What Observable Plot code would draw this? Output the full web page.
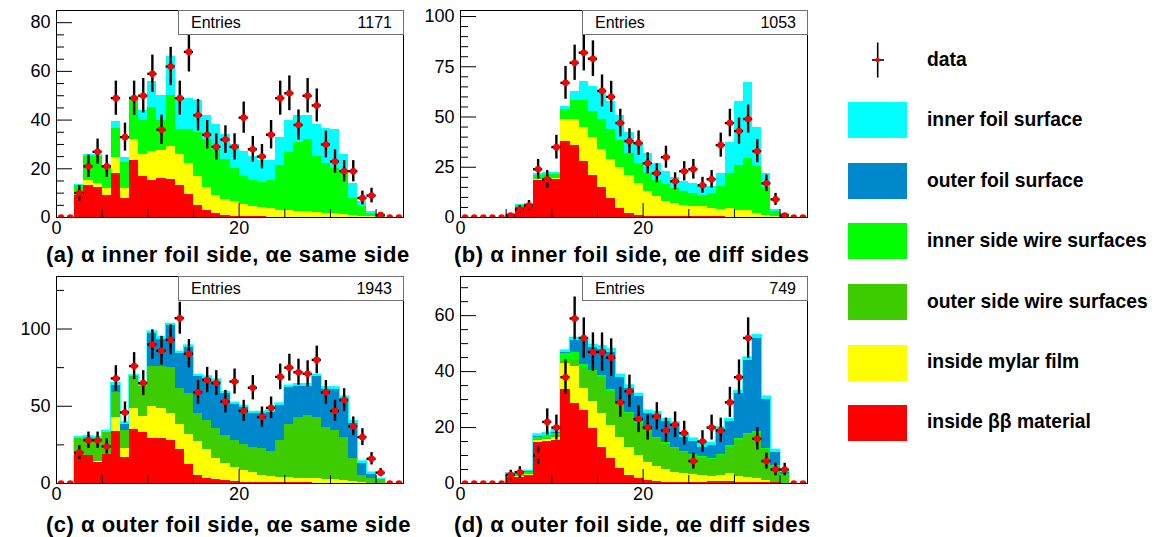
<!DOCTYPE html>
<html><head><meta charset="utf-8">
<script src="https://cdn.jsdelivr.net/npm/d3@7"></script>
<script src="https://cdn.jsdelivr.net/npm/@observablehq/plot@0.6"></script>
<style>
body{margin:0;background:#fff;font-family:"Liberation Sans",Arial,Helvetica,sans-serif;}
#wrap{position:relative;width:1172px;height:537px;overflow:hidden;background:#fff;}
.panel{position:absolute;}
.stats{position:absolute;border:1px solid #707070;background:#fff;font-size:16px;box-sizing:border-box;color:#000;}
.stats span{position:absolute;top:50%;transform:translateY(-50%);}
.cap{position:absolute;font-weight:bold;font-size:22px;letter-spacing:0.5px;white-space:nowrap;color:#000;}
.leg{position:absolute;font-weight:bold;font-size:19.3px;white-space:nowrap;color:#000;}
.sw{position:absolute;width:59px;height:36px;}
</style></head><body><div id="wrap"></div>
<script>
// ---- data (bins of width 1, lower edges 0..37) ----
const binLow = d3.range(38);
const colInnerFoil = "#00ffff", colOuterFoil = "#0088cc", colInnerWire = "#00ff00",
      colOuterWire = "#3ccc00", colMylar = "#ffff00", colBB = "#ff0000";

// panel (a)
const aData = [0,0,10,21,27,21,49,33,49,50,59,36,62,49,68,42,34,29,32,29,41,28,25,34,49,51,38,50,46,30,23,19,19,8,9,1,0,0];
const aUpToBB = [0,0,9,13,12.5,9,18,8,23.5,17,15,16,15.5,13,9.5,5,3,1.5,1,0.6,0.4,0.3,0.3,0.2,0.2,0.2,0.1,0.1,0.1,0.1,0,0,0,0,0,0,0,0];
const aUpToMylar = [0,0,9.5,15,14,12,24.5,12,32,26,27,27.5,29,26,22,17,12.5,9,7.5,6.5,5.5,4.5,4,3.5,3,2.8,2.6,2.4,2.2,1.8,1.5,1.2,0.8,0.5,0.3,0.1,0,0];
const aUpToInnerWire = [0,0,13,25,25,21,36.5,22.5,48,40,45,40,50,36,36,35,32,28,24,20,17,15,14.5,15,21.5,26.5,31,32,25,22,20,18,8,4.5,1.6,1.2,0,0];
const aTotal = [0,0,13.5,26,26,21.5,39.5,24.5,49.5,44,56,50,66,49,49,48,42,38,34,30,27,25,23.5,23.5,33,40,42,42,38,36.5,36,26,14,6.5,2.3,1.4,0,0];

// panel (b)
const bData = [0,0,0,0,0,1,4,6,24,19,35,67,77,82,79,63,60,47,38,37,27,22,30,18,23,24,16,19,36,47,43,49,33,17,9,1,0,0];
const bUpToBB = [0,0,0,0,0,1.5,5,5.5,18.5,19,19,38,36,28,21,15,9.5,4.5,2,1.2,0.7,0.5,0.4,0.3,0.3,0.5,0.7,0.4,0.3,0.2,0.2,0.1,0,0,0,0,0,0];
const bUpToMylar = [0,0,0,0,0,1.5,5.2,5.7,19,19.5,19.5,49,49,45,40,34,29,25,21,17,13,10.3,8,7,6,5.6,5.3,4.5,4.2,4.5,3.6,3.3,2,1.2,0.5,0.2,0,0];
const bUpToInnerWire = [0,0,0,0,0,1.7,6,6.5,21,21.5,21.5,53.5,58,58,52.5,49,44,38.5,32,27,22,18.5,16.5,14.5,12.7,12,11,12,15.5,22,26,29.3,25.2,15,3,1.7,0,0];
const bTotal = [0,0,0,0,0,1.8,6.5,7,22,22.5,22.5,55,62.5,67.5,65,62.5,57.5,51,42.5,37,32,27,22.7,20,17.7,16.8,15.2,15.6,22,37.5,57.5,67.3,45,22,4,2.2,0,0];

// panel (c)
const cData = [0,0,20,28,28,24,68,46,76,65,90,86,93,107,84,59,67,65,53,66,47,62,43,49,69,75,72,71,80,59,47,54,37,30,16,7,0,0];
const cUpToBB = [0,0,18.5,18,13.5,18.5,33.5,17,35,33,29,29,28,22,12,5.3,3.5,2.5,1.7,1.1,0.9,0.7,0.6,0.5,0.5,0.5,0.4,0.4,0.3,0.3,0.2,0.2,0.1,0,0,0,0,0];
const cUpToMylar = [0,0,18.7,18.3,14,18.7,43,22.5,48.5,43.5,50,48.5,45,38.5,32,27.5,22,16.5,12.7,10.5,8.5,7.3,5.5,4.5,4,3.7,3.4,3.2,3,2.6,2.4,2,1,0.5,0.2,0.1,0,0];
const cUpToOuterWire = [0,0,29,29.5,29,33,59,34.5,69,62.5,75.5,75.5,75,61.5,58,45,40.5,35.5,31,28,25,23,22.5,20.5,28,38.5,43,44,43,36.5,34.5,30,16,5.5,3,2.4,0,0];
const cUpToOuterFoil = [0,0,29.3,29.8,29.3,33.3,63.5,38.5,69.3,63,97,93.5,102,84,88,69,68,66,58,51,49,45,45,46,50.5,62,63,63,69,61,61,55,39,13,6,2.5,0,0];
const cTotal = [0,0,30,30.5,30,34,64.8,39.5,70,64,98.2,94.7,103.2,85.2,89.2,70.2,69.2,67.2,59.2,52.2,50.2,46.2,46.2,47.2,51.7,63.2,64.2,64.2,70.2,62.2,62.2,56.2,40.2,14.2,7,3,0,0];

// panel (d)
const dData = [0,0,0,0,0,3,4,0,10,22,20,38,59,52,47,47,45,29,33,23,20,24,19,21,18,8,15,20,19,29,38,52,16,8,5,5,0,0];
const dUpToBB = [0,0,0,0,0,2.3,2.3,2.9,14.8,15,15.4,33.6,28.6,26.2,19.6,13,8.8,5.3,2.9,1.7,1.1,0.7,0.5,0.4,0.3,0.3,0.4,0.6,0.8,0.8,0.5,0.4,0.4,0.5,0.3,0,0,0];
const dUpToMylar = [0,0,0,0,0,2.5,2.5,3.1,15.4,15.6,16.6,42.9,41.7,34,29.2,25,20.8,16.6,13,10,7.6,5.9,4.9,4.1,3.5,3.2,2.9,2.5,2.9,3.6,2.5,2.3,1.7,1.1,0.4,0.1,0,0];
const dUpToOuterWire = [0,0,0,0,0,2.8,3,3.5,15.8,16,17,43.5,44,41.5,40,38,33,28.5,25,21.5,18.5,16,14,12.5,11,10,9,8.5,10,13,15.5,17.5,18,12,6,3,0,0];
const dUpToInnerWire = [0,0,0,0,0,3.2,3.5,4,16.5,17,18,46.5,47,42.5,40.5,38.5,33.5,29,25.5,22,19,16.5,14.5,13,11.5,10.5,9.5,9,10.5,13.5,16,18,18.5,12.5,6.5,3.2,0,0];
const dUpToOuterFoil = [0,0,0,0,0,3.4,3.7,4.2,16.8,17.3,18.3,47,51,51,48.5,48,47,38,34,31,25,24.5,22,21,16.5,15,13,13.5,19,22,32,44,52,30,11,4,0,0];
const dTotal = [0,0,0,0,0,3.6,4,4.5,17.5,18,19,47.5,52,52,49.5,49,48,38.8,35,32,26,25.5,23,21.8,17.5,16,14,14.5,20,23,33,45,53,31,12,4.5,0,0];

const entries = [1171, 1053, 1943, 749];
const captions = [
  "(a) \u03b1 inner foil side, \u03b1e same side",
  "(b) \u03b1 inner foil side, \u03b1e diff sides",
  "(c) \u03b1 outer foil side, \u03b1e same side",
  "(d) \u03b1 outer foil side, \u03b1e diff sides"
];
const legendLabels = ["data","inner foil surface","outer foil surface","inner side wire surfaces","outer side wire surfaces","inside mylar film","inside \u03b2\u03b2 material"];
const legendColors = [null, colInnerFoil, colOuterFoil, colInnerWire, colOuterWire, colMylar, colBB];
const xMajor = [0, 20], xMinor = [5, 10, 15, 25, 30, 35];

// ---- drawing ----
const wrap = document.getElementById("wrap");

function panel({left, top, width, data, layers, yMax, yMajor, yMinor, ml, outline}) {
  const pts = binLow.map((b, i) => ({lo: b, hi: b + 1, c: b + 0.5, n: data[i]}));
  const nz = pts.filter(p => p.n > 0);
  const marks = [];
  layers.forEach((L, k) => {
    const rows = binLow.map((b, i) => ({x1: b, x2: b + 1, y: L.values[i]})).filter(r => r.y > 0);
    if (k === 0 && outline) {
      marks.push(Plot.rectY(rows, {x1: "x1", x2: "x2", y1: 0, y2: "y", fill: L.color, stroke: L.color, strokeWidth: 1.6}));
    }
    marks.push(Plot.rectY(rows, {x1: "x1", x2: "x2", y1: 0, y2: "y", fill: L.color, shapeRendering: "crispEdges"}));
  });
  marks.push(
    Plot.axisY({ticks: yMinor, tickSize: -8, fill: "none", label: null}),
    Plot.axisY({ticks: yMajor, tickSize: -16, tickPadding: 22, tickFormat: d => String(d), label: null}),
    Plot.axisX({ticks: xMinor, tickSize: -8, fill: "none", label: null}),
    Plot.axisX({ticks: xMajor, tickSize: -14, tickPadding: 18, tickFormat: d => String(d), label: null}),
    Plot.ruleX(nz, {x: "c", y1: d => d.n - Math.sqrt(d.n), y2: d => d.n + Math.sqrt(d.n), stroke: "black", strokeWidth: 2.4}),
    Plot.ruleY(nz, {y: "n", x1: "lo", x2: "hi", stroke: "black", strokeWidth: 2.4}),
    Plot.dot(pts, {x: "c", y: "n", r: 3.3, fill: "#ff0000", stroke: "none", clip: true}),
    Plot.frame({stroke: "black", strokeWidth: 1})
  );
  const svg = Plot.plot({
    width, height: 240,
    marginLeft: ml, marginRight: width - ml - 347, marginTop: 10, marginBottom: 23,
    x: {domain: [0, 38]},
    y: {domain: [0, yMax]},
    style: {fontFamily: "'Liberation Sans', Arial, sans-serif", fontSize: "18px", background: "transparent", color: "#000", overflow: "visible"},
    marks
  });
  svg.classList.add("panel");
  svg.style.left = left + "px";
  svg.style.top = top + "px";
  wrap.appendChild(svg);
}

function minorTicks(step, max, majors) {
  return d3.range(0, max + 0.001, step).filter(v => !majors.includes(v));
}

const aMaj = [0, 20, 40, 60, 80], bMaj = [0, 25, 50, 75, 100], cMaj = [0, 50, 100], dMaj = [0, 20, 40, 60];
panel({left: 0, top: 0, width: 410, ml: 56, data: aData, yMax: 85, yMajor: aMaj, yMinor: minorTicks(5, 85, aMaj),
  layers: [{color: colInnerFoil, values: aTotal}, {color: colInnerWire, values: aUpToInnerWire}, {color: colMylar, values: aUpToMylar}, {color: colBB, values: aUpToBB}]});
panel({left: 410, top: 0, width: 400, ml: 50, data: bData, yMax: 103, yMajor: bMaj, yMinor: minorTicks(5, 103, bMaj),
  layers: [{color: colInnerFoil, values: bTotal}, {color: colInnerWire, values: bUpToInnerWire}, {color: colMylar, values: bUpToMylar}, {color: colBB, values: bUpToBB}]});
panel({left: 0, top: 266, width: 410, ml: 56, data: cData, yMax: 134, yMajor: cMaj, yMinor: [25, 75, 125], outline: true,
  layers: [{color: colInnerFoil, values: cTotal}, {color: colOuterFoil, values: cUpToOuterFoil}, {color: colOuterWire, values: cUpToOuterWire}, {color: colMylar, values: cUpToMylar}, {color: colBB, values: cUpToBB}]});
panel({left: 410, top: 266, width: 400, ml: 50, data: dData, yMax: 74, yMajor: dMaj, yMinor: minorTicks(5, 74, dMaj), outline: true,
  layers: [{color: colInnerFoil, values: dTotal}, {color: colOuterFoil, values: dUpToOuterFoil}, {color: colInnerWire, values: dUpToInnerWire}, {color: colOuterWire, values: dUpToOuterWire}, {color: colMylar, values: dUpToMylar}, {color: colBB, values: dUpToBB}]});

// stats boxes
const boxPos = [[178, 10], [582, 10], [178, 276], [582, 276]];
boxPos.forEach(([x, y], i) => {
  const d = document.createElement("div");
  d.className = "stats";
  Object.assign(d.style, {left: x + "px", top: y + "px", width: "226px", height: "25px"});
  d.innerHTML = `<span style="left:12px">Entries</span><span style="right:11px">${entries[i]}</span>`;
  wrap.appendChild(d);
});

// captions
const capPos = [[46, 242], [454, 242], [46, 512], [454, 512]];
capPos.forEach(([x, y], i) => {
  const d = document.createElement("div");
  d.className = "cap";
  Object.assign(d.style, {left: x + "px", top: y + "px"});
  d.textContent = captions[i];
  wrap.appendChild(d);
});

// legend
const legTop = [60, 120, 181, 241, 302, 362.5, 422.5];
legendLabels.forEach((lab, i) => {
  const cy = legTop[i];
  if (legendColors[i]) {
    const s = document.createElement("div");
    s.className = "sw";
    Object.assign(s.style, {left: "848px", top: (cy - 18) + "px", background: legendColors[i]});
    wrap.appendChild(s);
  } else {
    const ns = "http://www.w3.org/2000/svg";
    const sv = document.createElementNS(ns, "svg");
    sv.setAttribute("width", 40); sv.setAttribute("height", 40);
    Object.assign(sv.style, {position: "absolute", left: "858px", top: (cy - 20) + "px"});
    sv.innerHTML = `<line x1="19.7" x2="19.7" y1="2.5" y2="37.5" stroke="#000" stroke-width="1.6"/>
      <line x1="14" x2="26" y1="20" y2="20" stroke="#000" stroke-width="1.6"/>
      <circle cx="19.7" cy="20" r="2.2" fill="#ff0000"/>`;
    wrap.appendChild(sv);
  }
  const t = document.createElement("div");
  t.className = "leg";
  Object.assign(t.style, {left: "927px", top: (cy - 11.5) + "px"});
  t.textContent = lab;
  wrap.appendChild(t);
});
</script></body></html>
